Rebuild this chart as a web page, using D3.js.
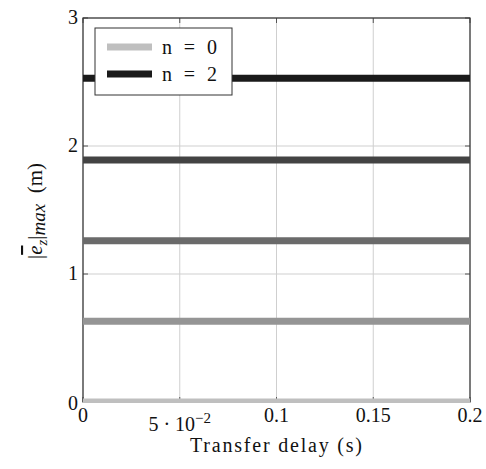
<!DOCTYPE html>
<html><head><meta charset="utf-8">
<script src="https://cdn.jsdelivr.net/npm/d3@7"></script>
<style>body{margin:0;background:#fff}svg{display:block}</style>
</head><body><svg id="c" width="486" height="469" font-family="'Liberation Serif', 'Times New Roman', serif"></svg>
<script>
const xTicks = [0, 0.05, 0.1, 0.15, 0.2];
const yTicks = [0, 1, 2, 3];
const seriesN = [0, 1, 2, 3, 4];
const seriesY = [0, 0.63, 1.26, 1.89, 2.53];
const seriesColor = ["#bfbfbf", "#959595", "#6a6a6a", "#434343", "#1a1a1a"];
const legendItems = [{label: "n = 0", color: "#bfbfbf"}, {label: "n = 2", color: "#1a1a1a"}];
const xDomain = [0, 0.2];

const svg = d3.select("#c");
const L = 83, R = 470, T = 18, B = 402;
const x = d3.scaleLinear().domain(xDomain).range([L, R]);
const y = d3.scaleLinear().domain([0, 3]).range([B, T]);

svg.append("g").selectAll("line").data(xTicks).join("line")
  .attr("x1", d => x(d)).attr("x2", d => x(d)).attr("y1", T).attr("y2", B)
  .attr("stroke", "#cfcfcf").attr("stroke-width", 1);
svg.append("g").selectAll("line").data(yTicks).join("line")
  .attr("y1", d => y(d)).attr("y2", d => y(d)).attr("x1", L).attr("x2", R)
  .attr("stroke", "#cfcfcf").attr("stroke-width", 1);

svg.append("defs").append("clipPath").attr("id", "clip").append("rect")
  .attr("x", L - 1).attr("y", T - 1).attr("width", R - L + 2).attr("height", B - T + 2);

const tk = svg.append("g").attr("stroke", "#555").attr("stroke-width", 1);
xTicks.forEach(t => {
  tk.append("line").attr("x1", x(t)).attr("x2", x(t)).attr("y1", B).attr("y2", B - 5);
  tk.append("line").attr("x1", x(t)).attr("x2", x(t)).attr("y1", T).attr("y2", T + 5);
});
yTicks.forEach(t => {
  tk.append("line").attr("x1", L).attr("x2", L + 5).attr("y1", y(t)).attr("y2", y(t));
  tk.append("line").attr("x1", R).attr("x2", R - 5).attr("y1", y(t)).attr("y2", y(t));
});

svg.append("rect").attr("x", L).attr("y", T).attr("width", R - L).attr("height", B - T)
  .attr("fill", "none").attr("stroke", "#333").attr("stroke-width", 1.2);

const line = d3.line().x(d => x(d[0])).y(d => y(d[1]));
svg.append("g").attr("clip-path", "url(#clip)")
  .selectAll("path").data(seriesY.map((v, i) => ({v, c: seriesColor[i]}))).join("path")
  .attr("d", d => line([[xDomain[0], d.v], [xDomain[1], d.v]]))
  .attr("stroke", d => d.c).attr("stroke-width", 7).attr("fill", "none");

const xl = svg.append("g").attr("font-size", 20).attr("text-anchor", "middle").attr("fill", "#111");
xTicks.forEach(t => {
  const tx = xl.append("text").attr("x", x(t)).attr("y", B + 20);
  if (t === 0.05) {
    tx.attr("y", B + 29);
    tx.append("tspan").text("5 · 10");
    tx.append("tspan").attr("font-size", 15).attr("dy", -8).text("−2");
  } else {
    tx.text(d3.format("")(t));
  }
});
const yl = svg.append("g").attr("font-size", 20).attr("text-anchor", "end").attr("fill", "#111");
yTicks.forEach(t => {
  yl.append("text").attr("x", L - 5).attr("y", y(t) + (t === 0 ? 8 : 6)).text(t);
});

svg.append("text").attr("x", 276).attr("y", 452).attr("text-anchor", "middle")
  .attr("font-size", 20).attr("fill", "#111")
  .attr("textLength", 172).attr("lengthAdjust", "spacing").text("Transfer delay (s)");
const yt = svg.append("text").attr("transform", "translate(42,211) rotate(-90)")
  .attr("text-anchor", "middle").attr("font-size", 21).attr("fill", "#111");
yt.append("tspan").text("|");
yt.append("tspan").attr("font-style", "italic").style("text-decoration", "overline").text("e");
yt.append("tspan").attr("font-style", "italic").attr("font-size", 15).attr("dy", 5).text("z");
yt.append("tspan").attr("dy", -5).text("|");
yt.append("tspan").attr("font-style", "italic").attr("font-size", 19).attr("dy", 3).text("max");
yt.append("tspan").attr("dy", -3).text("\u2002(m)");

const lg = svg.append("g");
lg.append("rect").attr("x", 95).attr("y", 28).attr("width", 137).attr("height", 67)
  .attr("fill", "#fff").attr("stroke", "#333").attr("stroke-width", 1);
legendItems.forEach((d, i) => {
  const cy = 47 + i * 27;
  lg.append("line").attr("x1", 107).attr("x2", 152).attr("y1", cy).attr("y2", cy)
    .attr("stroke", d.color).attr("stroke-width", 7);
  lg.append("text").attr("x", 162).attr("y", cy + 7).attr("font-size", 20).attr("fill", "#111")
    .attr("textLength", 55).attr("lengthAdjust", "spacing").text(d.label);
});
</script></body></html>
